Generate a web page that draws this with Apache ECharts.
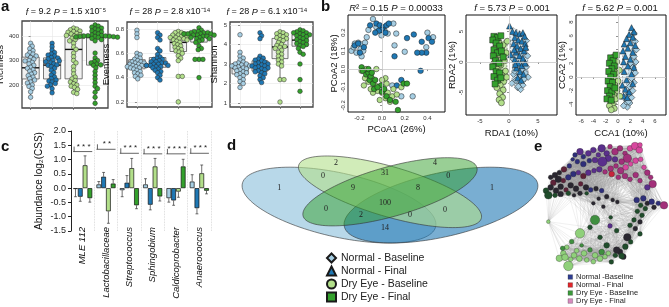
<!DOCTYPE html>
<html>
<head>
<meta charset="utf-8">
<script src="https://cdn.jsdelivr.net/npm/echarts@6/dist/echarts.min.js"></script>
<style>
html, body { margin: 0; padding: 0; background: #fff; }
#main { width: 669px; height: 307px; }
</style>
</head>
<body>
<div id="main"></div>
<script>
var fontFamily = 'Liberation Sans';
var groups = ['Normal - Baseline', 'Normal - Final', 'Dry Eye - Baseline', 'Dry Eye - Final'];
var groupColors = ['#a6cee3', '#1f78b4', '#b2df8a', '#33a02c'];
var groupSymbols = ['diamond', 'triangle', 'circle', 'rect'];

// a: alpha diversity, one list per group
var richness = [
  [370, 358, 348, 340, 332, 326, 322, 318, 312, 305, 300, 298, 292, 286, 280, 272, 268, 262, 256, 250, 244, 238, 232, 226, 220, 212, 208, 200, 194, 186, 172, 150],
  [370, 356, 342, 332, 326, 322, 318, 312, 310, 306, 300, 298, 295, 290, 286, 282, 280, 275, 268, 260, 250, 240, 232, 226, 220, 216, 212, 206, 200, 195, 185, 168],
  [432, 428, 425, 420, 418, 415, 410, 408, 405, 402, 400, 398, 395, 390, 385, 380, 370, 355, 345, 330, 315, 300, 290, 275, 260, 245, 232, 225, 218, 212, 205, 200, 195, 190, 182, 170, 165],
  [445, 440, 436, 432, 428, 424, 420, 416, 412, 408, 404, 402, 401, 400, 400, 399, 398, 398, 397, 396, 395, 394, 390, 385, 380, 330, 310, 300, 295, 290, 285, 282, 280, 270, 255, 240, 225, 210, 195, 185, 170, 150, 125]
];
var evenness = [
  [0.79, 0.76, 0.73, 0.6, 0.59, 0.57, 0.56, 0.55, 0.54, 0.53, 0.53, 0.52, 0.52, 0.51, 0.51, 0.5, 0.5, 0.5, 0.49, 0.49, 0.48, 0.48, 0.47, 0.46, 0.45, 0.44, 0.43, 0.42, 0.41, 0.39],
  [0.77, 0.75, 0.73, 0.71, 0.64, 0.62, 0.59, 0.57, 0.56, 0.55, 0.55, 0.54, 0.53, 0.53, 0.52, 0.52, 0.51, 0.51, 0.5, 0.5, 0.5, 0.49, 0.49, 0.48, 0.47, 0.46, 0.45, 0.44, 0.42, 0.4, 0.38],
  [0.78, 0.77, 0.77, 0.76, 0.75, 0.75, 0.74, 0.74, 0.73, 0.73, 0.72, 0.72, 0.71, 0.71, 0.7, 0.69, 0.68, 0.67, 0.66, 0.65, 0.64, 0.63, 0.62, 0.61, 0.6, 0.58, 0.56, 0.54, 0.41, 0.41, 0.2],
  [0.81, 0.79, 0.78, 0.78, 0.77, 0.77, 0.77, 0.76, 0.76, 0.76, 0.76, 0.75, 0.75, 0.75, 0.74, 0.74, 0.73, 0.73, 0.72, 0.72, 0.71, 0.7, 0.69, 0.66, 0.64, 0.63, 0.55, 0.55, 0.55, 0.4]
];
var shannon = [
  [4.5, 3.6, 3.4, 3.3, 3.2, 3.1, 3.05, 3.0, 3.0, 2.95, 2.9, 2.9, 2.85, 2.8, 2.8, 2.75, 2.7, 2.65, 2.6, 2.55, 2.5, 2.45, 2.4, 2.3, 2.2, 2.1, 2.0, 1.8],
  [4.6, 4.45, 4.3, 3.4, 3.3, 3.25, 3.2, 3.15, 3.1, 3.05, 3.0, 3.0, 2.95, 2.9, 2.9, 2.85, 2.8, 2.8, 2.75, 2.7, 2.65, 2.6, 2.55, 2.5, 2.4, 2.3, 2.2, 2.05],
  [4.65, 4.6, 4.55, 4.5, 4.45, 4.4, 4.35, 4.3, 4.25, 4.2, 4.1, 4.0, 3.95, 3.9, 3.85, 3.8, 3.7, 3.6, 3.5, 3.4, 3.3, 3.2, 3.1, 3.0, 2.9, 2.2, 2.2, 1.05],
  [4.75, 4.7, 4.65, 4.6, 4.6, 4.55, 4.5, 4.5, 4.45, 4.4, 4.35, 4.3, 4.25, 4.2, 4.15, 4.1, 4.05, 4.0, 3.95, 3.9, 3.8, 3.6, 3.5, 3.0, 2.2, 1.6]
];
var richnessTicks = [200, 300, 400];
var evennessTicks = [0.2, 0.4, 0.6, 0.8];
var shannonTicks = [1, 2, 3, 4, 5];

// b: ordinations, [x, y] per sample
var pcoa = [
  [[-0.27, 0.10], [-0.24, 0.14], [-0.21, 0.145], [-0.18, 0.135], [-0.15, 0.145], [-0.19, 0.11], [-0.165, 0.10], [-0.225, 0.09], [-0.18, 0.07], [-0.25, 0.12], [-0.135, 0.175], [-0.12, 0.215], [-0.08, 0.275], [-0.05, 0.23], [0.02, 0.215], [0.05, 0.195], [-0.005, 0.185], [0.10, 0.25], [0.125, 0.195], [0.11, 0.13], [0.20, 0.095], [0.39, 0.12], [0.45, 0.175], [0.40, 0.20], [0.17, -0.15], [0.27, -0.15], [0.09, -0.09], [-0.13, -0.04]],
  [[-0.24, 0.13], [-0.21, 0.14], [-0.195, 0.09], [-0.16, 0.12], [-0.105, 0.24], [-0.05, 0.25], [-0.02, 0.24], [0.01, 0.23], [0.04, 0.24], [0.06, 0.25], [0.0, 0.215], [-0.03, 0.21], [-0.06, 0.20], [0.03, 0.20], [0.22, 0.17], [0.28, 0.19], [0.35, 0.15], [0.41, 0.17], [0.44, 0.15], [0.39, 0.09], [0.35, 0.09], [0.31, 0.09], [0.11, 0.07], [0.34, -0.01], [0.13, -0.09], [0.17, -0.06]],
  [[-0.18, -0.01], [-0.14, 0.0], [-0.13, -0.03], [-0.09, -0.05], [-0.06, -0.09], [-0.04, -0.12], [0.0, -0.13], [0.03, -0.16], [0.05, -0.13], [0.09, -0.15], [0.10, -0.11], [0.04, -0.08], [-0.12, -0.07], [-0.16, -0.09], [-0.08, -0.13], [-0.02, -0.17], [0.13, -0.14], [0.17, -0.10], [-0.05, 0.0], [0.03, -0.05], [-0.10, -0.11], [0.07, -0.18], [-0.15, -0.05], [0.0, -0.06]],
  [[-0.18, 0.01], [-0.17, -0.01], [-0.14, -0.03], [-0.12, -0.02], [-0.11, -0.06], [-0.08, -0.08], [-0.06, -0.06], [-0.07, -0.11], [-0.01, -0.09], [0.0, -0.125], [0.04, -0.15], [0.07, -0.17], [0.12, -0.18], [0.14, -0.225], [0.19, -0.08], [0.22, -0.08], [-0.12, 0.0], [-0.10, -0.04], [-0.04, -0.10], [0.02, -0.11], [-0.09, -0.02]]
];
var rda = [
  [[3.0, 3.5], [2.7, 2.0], [3.2, 1.0], [2.5, 0.0], [3.0, -0.8], [2.2, -1.2], [2.8, -1.8], [3.3, -2.5], [2.0, -2.2], [2.6, -2.8], [1.8, -3.4], [2.4, -3.8], [1.5, -4.2], [2.0, -4.5], [1.2, -3.0], [0.8, -2.0], [1.0, -1.5], [0.5, -3.5], [1.4, 1.8], [0.7, 0.5], [2.2, 1.4], [1.6, -4.0]],
  [[0.1, 5.9], [0.6, 5.0], [1.2, 4.8], [1.8, 4.6], [2.4, 4.8], [2.7, 4.2], [1.0, 4.0], [1.6, 3.6], [2.2, 3.4], [2.8, 3.0], [0.8, 3.0], [1.4, 2.6], [2.0, 2.2], [2.6, 1.8], [1.2, 1.6], [1.8, 1.0], [2.4, 0.6], [1.0, 0.4], [1.6, -0.2], [2.2, -0.6], [2.8, -0.2], [1.3, -1.0], [1.9, -1.6], [2.5, -2.0], [1.5, -2.6], [2.1, -3.0], [1.1, -0.4], [0.3, 1.2], [2.9, 2.4], [0.9, 2.0]],
  [[-2.4, 3.6], [-1.8, 3.2], [-2.2, 2.5], [-1.0, 2.8], [-0.5, 1.5], [-1.6, 1.2], [-2.4, 0.5], [-0.8, 0.2], [-1.4, -0.5], [-2.0, -1.2], [-0.6, -1.5], [-1.2, -2.2], [-1.8, -2.8], [-0.9, -3.2], [-1.5, -3.8], [-2.1, -4.2], [-1.0, -4.6], [-1.6, -5.2], [-1.1, -5.8], [-1.7, -6.2], [-1.3, -6.7], [-0.4, -2.5], [-2.6, -0.2], [-0.3, 3.4]],
  [[-2.6, 4.2], [-2.0, 4.0], [-1.4, 4.3], [-2.8, 3.6], [-2.2, 3.1], [-1.6, 2.6], [-2.6, 2.0], [-2.0, 1.5], [-1.3, 1.8], [-2.7, 1.0], [-2.3, 0.2], [-1.7, -0.2], [-2.8, -0.8], [-2.2, -1.6], [-1.6, -1.8], [-2.6, -2.4], [-2.0, -3.0], [-1.4, -2.6], [-2.4, -3.6], [-1.0, 0.8]]
];
var cca = [
  [[2.6, 6.4], [2.8, 5.2], [3.0, 4.0], [2.6, 3.0], [2.9, 2.2], [2.4, 1.4], [2.8, 0.6], [2.2, -0.2], [2.6, -0.8], [1.9, -1.4], [2.4, -2.0], [1.6, -2.6], [2.2, -3.0], [1.4, -3.4], [1.9, -3.8], [1.2, -4.0], [1.5, -4.4], [0.9, -4.2], [1.7, -3.6], [2.0, 2.0]],
  [[2.2, 7.2], [2.6, 6.6], [1.8, 6.2], [2.4, 5.8], [1.4, 5.6], [2.0, 5.0], [1.0, 4.8], [2.8, 4.6], [1.6, 4.2], [2.4, 3.6], [0.8, 3.8], [1.2, 3.0], [2.0, 2.6], [0.9, 2.2], [1.6, 1.6], [2.6, 1.4], [1.0, 0.8], [2.2, 0.4], [1.4, -0.4], [0.7, -1.2], [1.2, -1.8], [1.8, -2.2], [0.9, -2.8], [1.5, -3.0], [2.4, -1.0]],
  [[-0.6, 3.0], [-0.2, 2.2], [-1.0, 1.8], [0.2, 1.0], [-0.4, 0.6], [-0.8, -0.2], [0.0, -0.6], [-0.5, -1.2], [-1.0, -1.8], [-0.2, -2.0], [-0.7, -2.6], [-1.2, -3.6], [-0.4, -3.2], [-0.9, -4.0], [-1.4, -4.2], [-0.6, -4.6], [0.3, -2.8], [-1.1, -4.8]],
  [[-1.2, 2.8], [-0.8, 2.4], [-1.4, 2.0], [-0.6, 1.6], [-1.0, 1.2], [-1.5, 0.8], [-0.7, 0.4], [-1.2, 0.0], [-1.6, -0.6], [-0.9, -0.8], [-1.3, -1.4], [-1.7, -2.0], [-1.0, -2.2], [-1.4, -2.8], [-1.8, -3.2], [-1.1, -3.4], [-0.5, -1.6], [-0.3, 3.2]]
];
var pcoaXTicks = [-0.2, 0, 0.2, 0.4];
var pcoaYTicks = [-0.2, -0.1, 0, 0.1, 0.2, 0.3];
var rdaTicks = [-5, 0, 5];
var ccaXTicks = [-6, -4, -2, 0, 2, 4, 6];
var ccaYTicks = [-4, -2, 0, 2, 4, 6, 8];

// c: differential abundance
var taxa = ['MLE 112', 'Lactobacillaceae', 'Streptococcus', 'Sphingobium', 'Caldicoprobacter', 'Anaerococcus'];
var abundance = [
  [-0.03, 0.13, -0.07, 0.13, -0.35, 0.23],
  [-0.3, 0.4, 0.19, -0.58, -0.43, -0.7],
  [0.8, -0.81, 0.7, 0.76, -0.12, 0.52],
  [-0.35, 0.16, -0.6, -0.29, 0.76, -0.09]
];
var abundanceErr = [
  [0.27, 0.10, 0.23, 0.2, 0.14, 0.24],
  [0.16, 0.15, 0.25, 0.18, 0.17, 0.2],
  [0.33, 0.42, 0.34, 0.28, 0.2, 0.29],
  [0.14, 0.14, 0.12, 0.16, 0.25, 0.11]
];
var sigStars = ['* * *', '* *', '* * *', '* * *', '* * * *', '* * *'];
var sigLevel = [1.28, 1.36, 1.22, 1.2, 1.2, 1.22];

// d: shared taxa per Venn region
var vennCounts = [1, 2, 0, 9, 31, 4, 0, 8, 1, 0, 100, 0, 2, 0, 14];

// e: co-occurrence network nodes [x, y, size, colour class]
var netNodes = [
  [105,45,5,0],[120,35,7,1],[130,50,5,0],[145,40,6,1],[160,30,6,1],[175,45,5,1],[185,25,8,1],[200,40,6,1],[210,20,5,2],[225,35,7,2],
  [240,25,6,2],[255,40,5,2],[270,25,6,3],[285,18,8,3],[298,30,7,3],[300,15,5,3],[262,55,9,2],[245,65,6,2],[225,58,6,1],[205,55,7,1],
  [187,65,10,1],[165,60,6,1],[148,62,5,0],[130,72,6,0],[112,65,5,0],[98,58,4,0],
  [88,78,5,0],[72,88,6,8],[58,98,5,4],[45,105,6,4],[32,112,5,4],[40,128,6,8],[55,118,7,4],[70,122,5,8],[85,112,6,0],[100,102,6,0],
  [115,98,5,1],[130,108,6,8],[145,98,6,1],[162,92,5,1],[178,88,6,1],[195,96,5,2],[212,86,6,2],[228,78,5,2],[242,92,7,2],[257,82,6,3],
  [272,72,5,3],[287,62,6,3],[302,58,5,3],[215,102,6,9],[235,112,5,2],[255,108,6,2],[270,118,5,2],[287,105,6,2],[300,122,5,2],[312,82,5,3],
  [322,98,6,2],[332,112,5,2],[338,132,8,2],[322,142,6,1],
  [18,152,6,5],[32,142,6,4],[48,152,6,4],[62,140,6,4],[78,150,5,8],[92,136,6,4],[108,146,6,4],[122,132,5,8],[138,142,6,4],[152,150,5,0],
  [168,146,5,4],[185,152,5,0],[200,170,5,4],[218,180,4,4],[232,186,4,4],[45,166,5,5],[62,162,6,4],[25,166,8,5],[85,160,5,5],[102,166,4,4],
  [120,160,5,4],[140,160,4,5],
  [290,180,6,0],[310,175,6,0],[322,190,5,4],[335,185,6,0],[302,196,5,5],[316,206,5,5],[342,202,5,4],[355,190,5,0],[372,196,8,2],[292,214,5,5],
  [306,226,5,5],[282,240,5,5],[300,246,5,4],[270,256,5,5],[286,266,5,4],[300,282,5,5],[262,292,8,4],[272,306,5,5],[256,320,6,5],[240,336,6,4],
  [250,350,6,4],[226,346,5,5],[214,366,5,5],
  [165,240,10,6],[150,262,5,5],[210,258,5,1],[180,292,5,5],[200,316,6,5],[230,272,5,5],[212,232,4,5],[190,200,4,4],[160,190,4,4],[176,176,4,4],
  [25,245,4,7],[120,280,10,7],[95,305,5,6],[80,322,5,7],[70,340,6,7],[58,355,7,7],[75,352,7,7],[92,358,5,7],[85,378,10,7],[102,346,6,7],
  [118,356,6,7],[110,332,5,7],[132,340,6,7],[150,330,5,6],[165,346,6,7],[180,356,6,7],[195,350,5,7],[185,336,6,6],[205,340,5,7],[125,316,4,6],
  [140,360,5,7],[160,365,5,7],[68,325,5,6],[230,330,7,4],[245,348,6,5]
];
var netPalette = ['#2e2f7a', '#5a2f8c', '#a3307a', '#d8489f', '#2a2730', '#1f4d2b', '#3f8f3f', '#8fd07a', '#5e2238', '#c8253c'];
var netLegend = ['Normal -Baseline', 'Normal - Final', 'Dry Eye - Baseline', 'Dry Eye - Final'];
var netLegendColors = ['#2e3d92', '#e3262b', '#3b9b3b', '#d88bc0'];

// ---------- helpers ----------
function quantile(s, p) {
  var h = (s.length - 1) * p, lo = Math.floor(h);
  var hi = Math.min(lo + 1, s.length - 1);
  return s[lo] + (h - lo) * (s[hi] - s[lo]);
}

function boxSeries(axisIdx, values) {
  return {
    type: 'custom', xAxisIndex: axisIdx, yAxisIndex: axisIdx, z: 2, silent: true,
    data: values.map(function (v, i) { return [i, v[0]]; }),
    renderItem: function (params, api) {
      var gi = params.dataIndex;
      var s = values[gi].slice().sort(function (a, b) { return a - b; });
      var q1 = quantile(s, 0.25), md = quantile(s, 0.5), q3 = quantile(s, 0.75), iqr = q3 - q1;
      var lo = s.filter(function (v) { return v >= q1 - 1.5 * iqr; })[0];
      var hiArr = s.filter(function (v) { return v <= q3 + 1.5 * iqr; });
      var hi = hiArr[hiArr.length - 1];
      var half = api.size([0.8, 0])[0] / 2;
      var cx = api.coord([gi, md])[0];
      var y = function (v) { return api.coord([gi, v])[1]; };
      var ln = { stroke: '#555', lineWidth: 0.8 };
      return {
        type: 'group', children: [
          { type: 'line', shape: { x1: cx, y1: y(lo), x2: cx, y2: y(q1) }, style: ln },
          { type: 'line', shape: { x1: cx, y1: y(hi), x2: cx, y2: y(q3) }, style: ln },
          { type: 'rect', shape: { x: cx - half, y: y(q3), width: 2 * half, height: y(q1) - y(q3) }, style: { fill: '#f1f1f1', stroke: '#555', lineWidth: 0.8 } },
          { type: 'line', shape: { x1: cx - half, y1: y(md), x2: cx + half, y2: y(md) }, style: { stroke: '#111', lineWidth: 1.4 } }
        ]
      };
    }
  };
}

// beeswarm: points keep their value, slide sideways until they no longer sit on a neighbour
function swarmSeries(axisIdx, values) {
  return {
    type: 'custom', xAxisIndex: axisIdx, yAxisIndex: axisIdx, z: 3, silent: true,
    data: values.map(function (v, i) { return [i, v[0]]; }),
    renderItem: function (params, api) {
      var gi = params.dataIndex;
      var vals = values[gi].slice().sort(function (a, b) { return b - a; });
      var cx = api.coord([gi, vals[0]])[0];
      var r = 2.3, d = 3.3, step = 0.8;
      var placed = [];
      vals.forEach(function (v) {
        var py = api.coord([gi, v])[1];
        for (var k = 0; k < 400; k++) {
          var off = (k % 2 === 1 ? 1 : -1) * Math.ceil(k / 2) * step;
          var px = cx + off;
          var free = placed.every(function (p) {
            var dx = p[0] - px, dy = p[1] - py;
            return dx * dx + dy * dy >= d * d;
          });
          if (free) { placed.push([px, py]); break; }
        }
      });
      return {
        type: 'group',
        children: placed.map(function (p) {
          return { type: 'circle', shape: { cx: p[0], cy: p[1], r: r }, style: { fill: groupColors[gi], stroke: '#2b2b2b', lineWidth: 0.5 } };
        })
      };
    }
  };
}

function convexHull(pts) {
  var p = pts.slice().sort(function (a, b) { return a[0] - b[0] || a[1] - b[1]; });
  var cross = function (o, a, b) { return (a[0] - o[0]) * (b[1] - o[1]) - (a[1] - o[1]) * (b[0] - o[0]); };
  var lower = [], upper = [];
  p.forEach(function (q) {
    while (lower.length >= 2 && cross(lower[lower.length - 2], lower[lower.length - 1], q) <= 0) lower.pop();
    lower.push(q);
  });
  p.slice().reverse().forEach(function (q) {
    while (upper.length >= 2 && cross(upper[upper.length - 2], upper[upper.length - 1], q) <= 0) upper.pop();
    upper.push(q);
  });
  upper.pop(); lower.pop();
  return lower.concat(upper);
}

var hullFill = ['rgba(166,206,227,0.55)', 'rgba(166,206,227,0.35)', 'rgba(178,223,138,0.5)', 'rgba(178,223,138,0.35)'];
function hullSeries(axisIdx, sets) {
  return {
    type: 'custom', xAxisIndex: axisIdx, yAxisIndex: axisIdx, z: 1, silent: true,
    data: sets.map(function (s, i) { return [i, 0]; }),
    renderItem: function (params, api) {
      var gi = params.dataIndex;
      var px = sets[gi].map(function (pt) { return api.coord(pt); });
      return {
        type: 'polygon', shape: { points: convexHull(px) },
        style: { fill: hullFill[gi], stroke: '#555', lineWidth: 0.6, lineDash: [2, 1.5] }
      };
    }
  };
}

function ordinationScatter(axisIdx, sets, useSymbols, crossLines) {
  return sets.map(function (pts, gi) {
    var s = {
      name: groups[gi], type: 'scatter', xAxisIndex: axisIdx, yAxisIndex: axisIdx, z: 4,
      symbol: useSymbols ? groupSymbols[gi] : 'circle',
      symbolSize: useSymbols ? (gi === 0 ? 6.5 : 6) : 5.5,
      itemStyle: { color: groupColors[gi], borderColor: '#1a1a1a', borderWidth: 0.5, opacity: 1 },
      data: pts, silent: true
    };
    if (gi === 0 && crossLines) {
      s.markLine = {
        silent: true, symbol: ['none', 'none'], label: { show: false },
        lineStyle: { color: '#c8c8c8', type: 'solid', width: 0.8 },
        data: [{ xAxis: 0 }, { yAxis: 0 }]
      };
    }
    return s;
  });
}

function tickFmt(d) { return function (v) { return Number(v).toFixed(d); }; }

function frameAxis(type, grid, min, max, ticks, fmt, extra) {
  extra = extra || {};
  return {
    type: 'value', gridIndex: grid, min: min, max: max,
    name: extra.name || '', nameLocation: 'middle', nameGap: extra.nameGap || 10,
    nameRotate: type === 'y' ? 90 : 0,
    nameTextStyle: { fontFamily: fontFamily, fontSize: extra.nameSize || 9.5, color: '#111' },
    axisLine: { show: false },
    axisTick: { show: true, length: 2, customValues: ticks, lineStyle: { color: '#444', width: 0.6 } },
    axisLabel: {
      show: extra.noLabel ? false : true, customValues: ticks, fontSize: 6, margin: extra.margin || 3,
      color: '#333', fontFamily: fontFamily, rotate: extra.rotate || 0, formatter: fmt
    },
    splitLine: { show: !!extra.split, lineStyle: { color: '#e6e6e6', width: 0.6 } }
  };
}

// ---------- grids ----------
var frameA = { show: true, borderColor: '#444', borderWidth: 1.3, outerBoundsMode: 'none' };
var frameB = { show: true, borderColor: '#111', borderWidth: 1, outerBoundsMode: 'none' };
var grids = [
  Object.assign({ left: 22, top: 21, width: 86, height: 87 }, frameA),
  Object.assign({ left: 127, top: 22, width: 85, height: 85 }, frameA),
  Object.assign({ left: 230, top: 22, width: 83, height: 85 }, frameA),
  Object.assign({ left: 348, top: 15, width: 97, height: 97 }, frameB),
  Object.assign({ left: 466, top: 15, width: 91, height: 100 }, frameB),
  Object.assign({ left: 576, top: 15, width: 90, height: 100 }, frameB),
  { left: 71, top: 131, width: 140, height: 100, outerBoundsMode: 'none' },
  { left: 220, top: 134.6, width: 340, height: 133, outerBoundsMode: 'none' },
  { left: 540, top: 140, width: 129, height: 133.3, outerBoundsMode: 'none' }
];

var groupTicks = [0, 1, 2, 3];
var xAxes = [
  frameAxis('x', 0, -0.4, 3.6, groupTicks, null, { noLabel: true, split: true }),
  frameAxis('x', 1, -0.48, 3.63, groupTicks, null, { noLabel: true, split: true }),
  frameAxis('x', 2, -0.5, 3.65, groupTicks, null, { noLabel: true, split: true }),
  frameAxis('x', 3, -0.3, 0.555, pcoaXTicks, tickFmt(1), { name: 'PCoA1 (26%)', nameGap: 12, nameSize: 9.5 }),
  frameAxis('x', 4, -7.41, 8.28, rdaTicks, tickFmt(0), { name: 'RDA1 (10%)', nameGap: 13, nameSize: 9.5 }),
  frameAxis('x', 5, -6.83, 7.8, ccaXTicks, tickFmt(0), { name: 'CCA1 (10%)', nameGap: 13, nameSize: 9.5 }),
  {
    type: 'category', gridIndex: 6, data: taxa,
    axisLine: { show: false }, axisTick: { show: false },
    axisLabel: { rotate: 90, margin: -4, fontSize: 9.5, fontStyle: 'italic', color: '#111', fontFamily: fontFamily, interval: 0 },
    splitLine: { show: true, lineStyle: { color: '#d0d0d0', type: 'dotted', width: 0.8 } }
  },
  { type: 'value', gridIndex: 7, min: 0, max: 1, show: false },
  { type: 'value', gridIndex: 8, min: 0, max: 387, show: false }
];
var yAxes = [
  frameAxis('y', 0, 106, 461, richnessTicks, tickFmt(0), { name: 'Richness', nameGap: 10, split: true }),
  frameAxis('y', 1, 0.158, 0.858, evennessTicks, tickFmt(1), { name: 'Evenness', nameGap: 11, split: true }),
  frameAxis('y', 2, 0.795, 5.154, shannonTicks, tickFmt(0), { name: 'Shannon', nameGap: 10, split: true }),
  frameAxis('y', 3, -0.236, 0.297, pcoaYTicks, tickFmt(1), { name: 'PCoA2 (18%)', nameGap: 7, rotate: 90, margin: 2 }),
  frameAxis('y', 4, -8.69, 7.7, rdaTicks, tickFmt(0), { name: 'RDA2 (1%)', nameGap: 9, rotate: 90, margin: 2 }),
  frameAxis('y', 5, -5.55, 9.05, ccaYTicks, tickFmt(0), { name: 'CCA2 (1%)', nameGap: 7, rotate: 90, margin: 2 }),
  {
    type: 'value', gridIndex: 6, min: -1.5, max: 2.0, interval: 0.5,
    name: 'Abundance log\u2082(CSS)', nameLocation: 'middle', nameGap: 27, nameRotate: 90,
    nameTextStyle: { fontFamily: fontFamily, fontSize: 10, color: '#111' },
    axisLine: { show: true, lineStyle: { color: '#222', width: 1 } },
    axisTick: { show: true, length: 3, lineStyle: { color: '#222' } },
    axisLabel: { fontSize: 9, margin: 5, color: '#222', fontFamily: fontFamily, formatter: tickFmt(1) },
    splitLine: { show: false }
  },
  { type: 'value', gridIndex: 7, min: 0, max: 1, show: false },
  { type: 'value', gridIndex: 8, min: 0, max: 400, inverse: true, show: false }
];

// ---------- series ----------
var series = [];
// b: RDA / CCA first so the legend takes their symbols
series = series.concat(ordinationScatter(4, rda, true, true));
series = series.concat(ordinationScatter(5, cca, true, true));
series = series.concat(ordinationScatter(3, pcoa, false, true));
series.push(hullSeries(4, rda));
series.push(hullSeries(5, cca));

// a
[[0, richness], [1, evenness], [2, shannon]].forEach(function (p) {
  series.push(boxSeries(p[0], p[1]));
  series.push(swarmSeries(p[0], p[1]));
});

// c: bars + error bars + significance
var catGap = 0.18;
abundance.forEach(function (vals, k) {
  series.push({
    name: groups[k], type: 'bar', xAxisIndex: 6, yAxisIndex: 6, data: vals,
    barGap: '0%', barCategoryGap: (catGap * 100) + '%', silent: true,
    itemStyle: { color: groupColors[k], borderColor: '#111', borderWidth: 0.7 }
  });
});
var errData = [];
abundance.forEach(function (vals, k) {
  vals.forEach(function (v, i) { errData.push([i, v, abundanceErr[k][i], k]); });
});
series.push({
  type: 'custom', xAxisIndex: 6, yAxisIndex: 6, z: 5, silent: true, data: errData,
  renderItem: function (params, api) {
    var i = api.value(0), v = api.value(1), e = api.value(2), k = api.value(3);
    var band = api.size([1, 0])[0];
    var bw = band * (1 - catGap) / 4;
    var x = api.coord([i, 0])[0] + (k - 1.5) * bw;
    var y0 = api.coord([i, v])[1];
    var y1 = api.coord([i, v + (v >= 0 ? e : -e)])[1];
    var st = { stroke: '#333', lineWidth: 0.7 };
    return {
      type: 'group', children: [
        { type: 'line', shape: { x1: x, y1: y0, x2: x, y2: y1 }, style: st },
        { type: 'line', shape: { x1: x - bw * 0.3, y1: y1, x2: x + bw * 0.3, y2: y1 }, style: st }
      ]
    };
  }
});
series.push({
  type: 'custom', xAxisIndex: 6, yAxisIndex: 6, z: 5, silent: true,
  data: sigLevel.map(function (l, i) { return [i, l]; }),
  renderItem: function (params, api) {
    var i = api.value(0), l = api.value(1);
    var band = api.size([1, 0])[0];
    var half = band * (1 - catGap) / 2;
    var c = api.coord([i, l]);
    var st = { stroke: '#222', lineWidth: 0.7 };
    return {
      type: 'group', children: [
        { type: 'line', shape: { x1: c[0] - half, y1: c[1], x2: c[0] + half, y2: c[1] }, style: st },
        { type: 'line', shape: { x1: c[0] - half + 1, y1: c[1], x2: c[0] - half + 1, y2: c[1] - 5 }, style: st },
        { type: 'text', style: { text: sigStars[params.dataIndex], x: c[0] + 1, y: c[1] - 1, fontSize: 8, fontFamily: fontFamily, fill: '#222', textAlign: 'center', textVerticalAlign: 'bottom' } }
      ]
    };
  }
});

// d: Venn (VennDiagram quad layout, unit square)
var vennShapes = [
  [0.35, 0.47, 0.35, 0.20, 135],
  [0.65, 0.47, 0.35, 0.20, 45],
  [0.50, 0.57, 0.35, 0.15, 135],
  [0.50, 0.57, 0.33, 0.15, 45]
];
var vennFill = ['rgba(166,206,227,0.8)', 'rgba(31,120,180,0.6)', 'rgba(178,223,138,0.6)', 'rgba(51,160,44,0.5)'];
var vennAnchors = [[0.174, 0.599], [0.341, 0.786], [0.303, 0.689], [0.391, 0.599], [0.485, 0.711], [0.632, 0.786], [0.671, 0.689], [0.582, 0.599], [0.80, 0.599], [0.312, 0.44], [0.485, 0.486], [0.662, 0.433], [0.415, 0.395], [0.559, 0.395], [0.485, 0.298]];
series.push({
  type: 'custom', xAxisIndex: 7, yAxisIndex: 7, z: 2, silent: true,
  data: vennShapes.map(function (s, i) { return [s[0], s[1]]; }),
  renderItem: function (params, api) {
    var s = vennShapes[params.dataIndex];
    var t = s[4] * Math.PI / 180, pts = [];
    for (var a = 0; a < 360; a += 3) {
      var u = a * Math.PI / 180;
      var ex = s[2] * Math.cos(u), ey = s[3] * Math.sin(u);
      pts.push(api.coord([s[0] + ex * Math.cos(t) - ey * Math.sin(t), s[1] + ex * Math.sin(t) + ey * Math.cos(t)]));
    }
    return { type: 'polygon', shape: { points: pts }, style: { fill: vennFill[params.dataIndex], stroke: '#333', lineWidth: 0.6 } };
  }
});
series.push({
  type: 'custom', xAxisIndex: 7, yAxisIndex: 7, z: 3, silent: true,
  data: vennCounts.map(function (c, i) { return [vennAnchors[i][0], vennAnchors[i][1], c]; }),
  renderItem: function (params, api) {
    var p = api.coord([api.value(0), api.value(1)]);
    return { type: 'text', style: { text: String(api.value(2)), x: p[0], y: p[1], fontSize: 8, fontFamily: 'Liberation Serif', fill: '#222', textAlign: 'center', textVerticalAlign: 'middle' } };
  }
});

// e: network, edges join nodes that sit close in the layout
var netLinks = [];
for (var i = 0; i < netNodes.length; i++) {
  for (var j = i + 1; j < netNodes.length; j++) {
    var dx = netNodes[i][0] - netNodes[j][0], dy = netNodes[i][1] - netNodes[j][1];
    if (dx * dx + dy * dy < 130 * 130) netLinks.push({ source: i, target: j });
  }
}
series.push({
  type: 'graph', coordinateSystem: 'cartesian2d', xAxisIndex: 8, yAxisIndex: 8, silent: true,
  symbol: 'circle', z: 2,
  data: netNodes.map(function (n) {
    return { value: [n[0], n[1]], symbolSize: n[2] * 0.95, itemStyle: { color: netPalette[n[3]], borderColor: '#222', borderWidth: 0.3 } };
  }),
  links: netLinks,
  lineStyle: { color: '#9a9a9a', opacity: 0.3, width: 0.5 },
  label: { show: false }
});

// ---------- texts ----------
var rich = { i: { fontStyle: 'italic', fontSize: 9, fontFamily: fontFamily, fill: '#111' } };
var richB = { i: { fontStyle: 'italic', fontSize: 9.5, fontFamily: fontFamily, fill: '#111' } };
function titleText(x, y, text, size, r) {
  return { type: 'text', x: x, y: y, silent: true, style: { text: text, fontSize: size, fontFamily: fontFamily, fill: '#111', textAlign: 'center', textVerticalAlign: 'middle', rich: r } };
}
function panelLabel(x, y, t) {
  return { type: 'text', x: x, y: y, silent: true, style: { text: t, fontSize: 15, fontWeight: 'bold', fontFamily: fontFamily, fill: '#111', textAlign: 'left', textVerticalAlign: 'middle' } };
}
var graphics = [
  panelLabel(1, 7, 'a'), panelLabel(321, 7, 'b'), panelLabel(1, 147, 'c'), panelLabel(227, 146, 'd'), panelLabel(534, 147, 'e'),
  titleText(66, 12, '{i|f} = 9.2 {i|P} = 1.5 x10\u207B\u2075', 9, rich),
  titleText(170, 12, '{i|f} = 28 {i|P} = 2.8 x10\u207B\u00B9\u2074', 9, rich),
  titleText(267, 12, '{i|f} = 28 {i|P} = 6.1 x10\u207B\u00B9\u2074', 9, rich),
  titleText(396, 8, '{i|R}\u00B2 = 0.15 {i|P} = 0.00033', 9.5, richB),
  titleText(512, 8, '{i|f} = 5.73 {i|P} = 0.001', 9.5, richB),
  titleText(620, 8, '{i|f} = 5.62 {i|P} = 0.001', 9.5, richB)
];
netLegend.forEach(function (t, k) {
  var y = 277 + k * 8;
  graphics.push({ type: 'rect', silent: true, shape: { x: 568, y: y - 2.3, width: 4.6, height: 4.6 }, style: { fill: netLegendColors[k], stroke: '#333', lineWidth: 0.3 } });
  graphics.push({ type: 'text', silent: true, x: 576, y: y, style: { text: t, fontSize: 7.5, fontFamily: fontFamily, fill: '#222', textAlign: 'left', textVerticalAlign: 'middle' } });
});

var dom = document.getElementById('main');
var myChart = echarts.init(dom, null, { renderer: 'canvas' });
var option = {
  animation: false,
  backgroundColor: '#fff',
  grid: grids,
  xAxis: xAxes,
  yAxis: yAxes,
  legend: {
    orient: 'vertical', left: 326, top: 252, bottom: 0, padding: 0,
    itemWidth: 9, itemHeight: 9, itemGap: 1, selectedMode: false,
    textStyle: { fontSize: 10.5, lineHeight: 12, fontFamily: fontFamily, color: '#222' },
    data: groups.map(function (g, i) { return { name: g, icon: groupSymbols[i] }; })
  },
  graphic: graphics,
  series: series
};
myChart.setOption(option);
window.addEventListener('resize', myChart.resize);
</script>
</body>
</html>
